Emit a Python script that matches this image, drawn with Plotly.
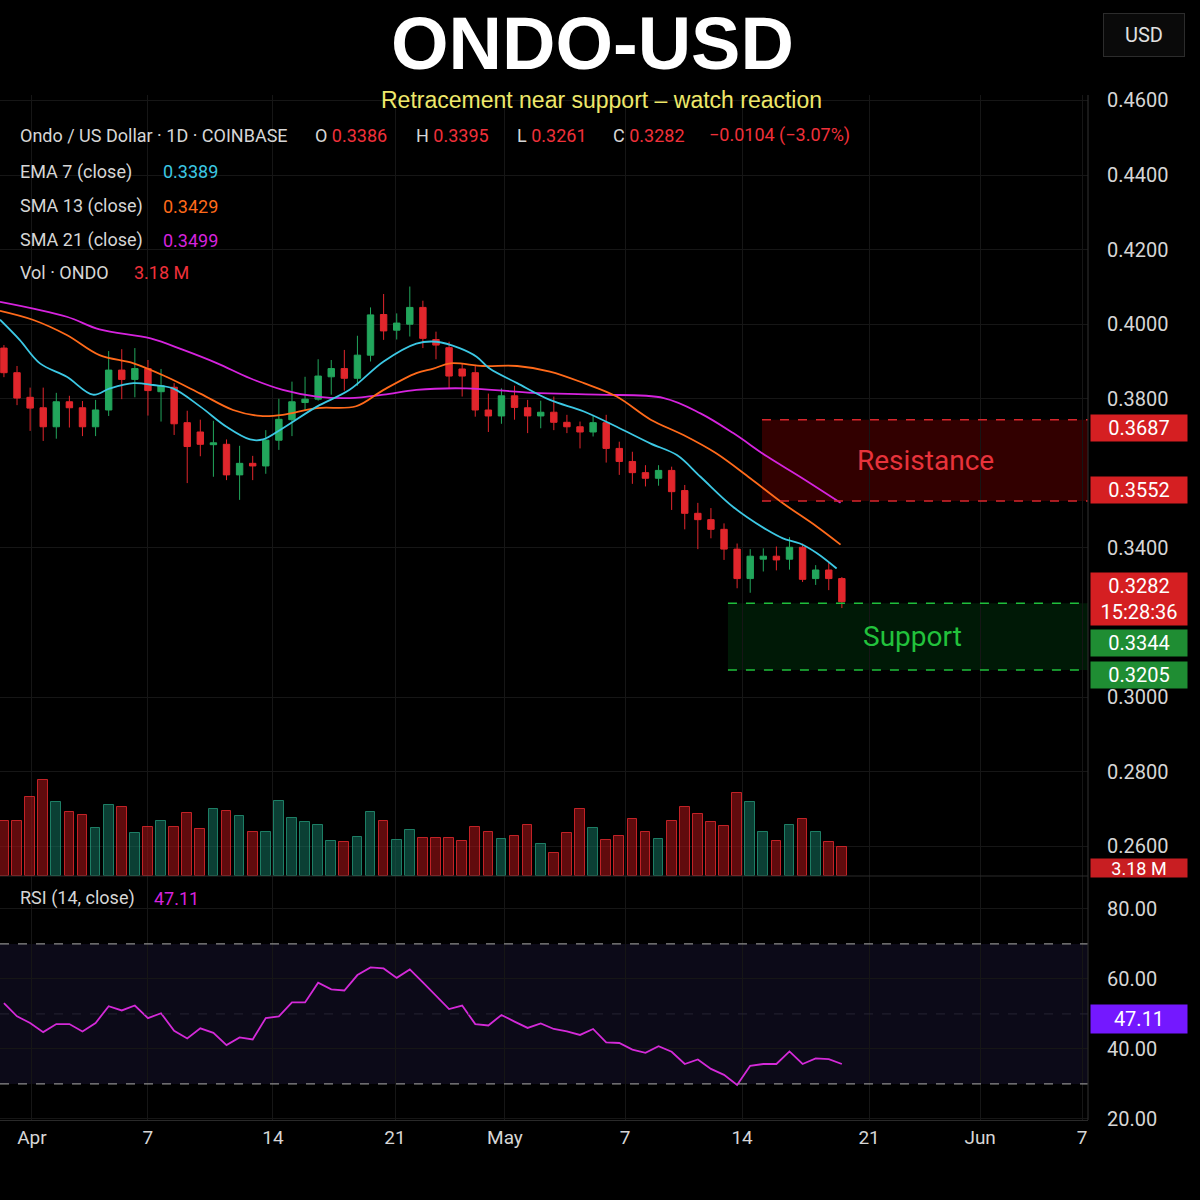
import plotly.graph_objects as go
from plotly.subplots import make_subplots

# daily candles, bar index 0 = first visible bar
opens = [0.3936, 0.3870, 0.3804, 0.3776, 0.3725, 0.3792, 0.3776, 0.3725, 0.3770, 0.3877,
         0.3852, 0.3881, 0.3819, 0.3831, 0.3736, 0.3711, 0.3677, 0.3678, 0.3596, 0.3627,
         0.3620, 0.3689, 0.3744, 0.3790, 0.3799, 0.3859, 0.3881, 0.3855, 0.3917, 0.4026,
         0.3984, 0.4000, 0.4045, 0.3959, 0.3937, 0.3880, 0.3870, 0.3770, 0.3754, 0.3808,
         0.3776, 0.3754, 0.3764, 0.3737, 0.3725, 0.3711, 0.3736, 0.3667, 0.3632, 0.3602,
         0.3587, 0.3608, 0.3554, 0.3493, 0.3476, 0.3450, 0.3397, 0.3318, 0.3370, 0.3378,
         0.3370, 0.3402, 0.3318, 0.3341, 0.3318]
highs = [0.3944, 0.3888, 0.3830, 0.3830, 0.3816, 0.3808, 0.3794, 0.3797, 0.3928, 0.3933,
         0.3936, 0.3904, 0.3880, 0.3842, 0.3768, 0.3744, 0.3741, 0.3691, 0.3674, 0.3647,
         0.3716, 0.3800, 0.3846, 0.3859, 0.3906, 0.3904, 0.3931, 0.3969, 0.4045, 0.4081,
         0.4029, 0.4101, 0.4063, 0.3980, 0.3953, 0.3895, 0.3891, 0.3814, 0.3828, 0.3835,
         0.3797, 0.3795, 0.3806, 0.3757, 0.3739, 0.3754, 0.3757, 0.3685, 0.3658, 0.3622,
         0.3622, 0.3618, 0.3569, 0.3521, 0.3507, 0.3466, 0.3412, 0.3397, 0.3399, 0.3404,
         0.3429, 0.3412, 0.3354, 0.3361, 0.3322]
lows = [0.3858, 0.3783, 0.3714, 0.3687, 0.3693, 0.3723, 0.3700, 0.3700, 0.3754, 0.3799,
        0.3804, 0.3755, 0.3739, 0.3703, 0.3574, 0.3646, 0.3591, 0.3582, 0.3529, 0.3582,
        0.3599, 0.3663, 0.3700, 0.3768, 0.3795, 0.3811, 0.3822, 0.3835, 0.3900, 0.3958,
        0.3959, 0.3967, 0.3936, 0.3906, 0.3828, 0.3806, 0.3752, 0.3711, 0.3733, 0.3744,
        0.3708, 0.3721, 0.3716, 0.3708, 0.3667, 0.3699, 0.3629, 0.3596, 0.3572, 0.3565,
        0.3567, 0.3502, 0.3450, 0.3397, 0.3426, 0.3368, 0.3292, 0.3280, 0.3337, 0.3340,
        0.3342, 0.3309, 0.3301, 0.3287, 0.3239]
closes = [0.3870, 0.3802, 0.3775, 0.3725, 0.3792, 0.3776, 0.3725, 0.3770, 0.3877, 0.3852,
          0.3881, 0.3822, 0.3835, 0.3733, 0.3672, 0.3678, 0.3682, 0.3596, 0.3627, 0.3620,
          0.3689, 0.3745, 0.3792, 0.3799, 0.3861, 0.3881, 0.3855, 0.3917, 0.4025, 0.3982,
          0.4003, 0.4045, 0.3962, 0.3944, 0.3861, 0.3861, 0.3770, 0.3754, 0.3808, 0.3777,
          0.3754, 0.3764, 0.3737, 0.3725, 0.3711, 0.3736, 0.3667, 0.3632, 0.3602, 0.3587,
          0.3608, 0.3551, 0.3493, 0.3476, 0.3450, 0.3397, 0.3318, 0.3378, 0.3378, 0.3368,
          0.3402, 0.3316, 0.3341, 0.3318, 0.3256]
volumes = [6.06, 6.13, 8.72, 10.67, 8.16, 7.05, 6.76, 5.28, 7.90, 7.61,
           4.73, 5.39, 6.13, 5.39, 6.94, 5.21, 7.42, 7.16, 6.65, 4.87,
           4.87, 8.35, 6.43, 6.02, 5.69, 3.84, 3.77, 4.28, 7.05, 6.13,
           4.03, 5.10, 4.21, 4.17, 4.17, 3.91, 5.47, 4.91, 4.10, 4.43,
           5.69, 3.55, 2.51, 4.80, 7.42, 5.28, 4.03, 4.43, 6.32, 4.84,
           4.06, 6.13, 7.68, 6.87, 6.02, 5.50, 9.16, 8.16, 4.87, 3.84,
           5.65, 6.28, 4.84, 3.73, 3.18]  # millions
rsi = [53.1, 49.3, 47.4, 44.8, 47.1, 47.1, 45.0, 47.4, 52.2, 51.0,
       52.4, 48.8, 50.2, 45.2, 43.0, 45.9, 44.6, 41.1, 43.3, 42.7,
       48.8, 49.3, 53.3, 53.3, 58.9, 57.0, 56.7, 61.1, 63.3, 63.0,
       60.3, 62.7, 59.0, 55.2, 51.4, 52.4, 47.1, 46.7, 49.7, 47.8,
       46.0, 47.3, 45.7, 45.0, 44.0, 45.7, 41.9, 41.7, 39.8, 38.9,
       40.8, 39.2, 35.7, 37.0, 34.3, 32.6, 29.7, 35.2, 35.7, 35.7,
       39.3, 35.7, 37.3, 37.1, 35.7]

# moving averages (x = bar index)
emaIdx = [-0.3, 1.2, 2.75, 4.8, 6.8, 8.1, 9.9, 11.4, 12.9, 15.0, 17.0, 18.8, 19.8, 21.3, 23.9,
          26.4, 29.0, 31.5, 33.05, 34.8, 36.1, 37.1, 39.2, 41.7, 44.3, 46.8, 49.4, 51.4, 53.2,
          55.7, 58.3, 59.5, 60.8, 62.1, 63.6]
emaVals = [0.4012, 0.3958, 0.3895, 0.3859, 0.3811, 0.3828, 0.3842, 0.3837, 0.3828, 0.3779,
           0.3725, 0.3691, 0.3691, 0.3721, 0.3779, 0.3824, 0.3900, 0.3948, 0.3953, 0.3936,
           0.3913, 0.3881, 0.3842, 0.3797, 0.3766, 0.3725, 0.3680, 0.3649, 0.3591, 0.3510,
           0.3448, 0.3426, 0.3412, 0.3386, 0.3345]
sma13Idx = [-0.3, 2.2, 4.8, 7.3, 9.9, 12.4, 15.0, 17.5, 19.6, 21.3, 23.9, 26.9, 29.0, 31.5,
            32.8, 34.1, 36.6, 39.2, 41.7, 44.3, 46.8, 49.4, 51.9, 54.4, 57.0, 59.5, 62.1, 63.9]
sma13Vals = [0.4036, 0.4012, 0.3971, 0.3917, 0.3895, 0.3859, 0.3814, 0.3770, 0.3754, 0.3757,
             0.3775, 0.3780, 0.3824, 0.3869, 0.3881, 0.3895, 0.3888, 0.3888, 0.3873, 0.3842,
             0.3806, 0.3744, 0.3703, 0.3654, 0.3587, 0.3520, 0.3457, 0.3409]
sma21Idx = [-0.3, 4.8, 7.3, 11.2, 13.7, 16.3, 18.8, 21.3, 23.9, 26.4, 29.0, 31.5, 35.3, 40.4,
            45.4, 50.4, 53.2, 55.7, 58.3, 60.8, 63.9]
sma21Vals = [0.4060, 0.4020, 0.3986, 0.3962, 0.3931, 0.3895, 0.3855, 0.3824, 0.3806, 0.3802,
             0.3811, 0.3824, 0.3828, 0.3816, 0.3811, 0.3802, 0.3761, 0.3708, 0.3645, 0.3591,
             0.3521]

# zones (as drawn) and the prices printed on their tags
resistanceZone = [0.3526, 0.3744]
resistanceStart = 57.9
resistanceTags = ["0.3687", "0.3552"]
supportZone = [0.3073, 0.3252]
supportStart = 55.3
supportTags = ["0.3344", "0.3205"]

priceTicks = [0.46, 0.44, 0.42, 0.40, 0.38, 0.34, 0.30, 0.28, 0.26]
rsiTicks = [20, 40, 60, 80]
dateTickIdx = [2.14, 11.0, 20.55, 29.87, 38.27, 47.44, 56.38, 66.08, 74.56, 82.35]
dateTickText = ["Apr", "7", "14", "21", "May", "7", "14", "21", "Jun", "7"]

ohlcText = [("O", "0.3386"), ("H", "0.3395"), ("L", "0.3261"), ("C", "0.3282")]
changeText = "−0.0104 (−3.07%)"
indicatorNames = ["EMA 7 (close)", "SMA 13 (close)", "SMA 21 (close)", "Vol · ONDO"]
indicatorValues = ["0.3389", "0.3429", "0.3499", "3.18 M"]
lastPrice, countdown = "0.3282", "15:28:36"
lastVolume, lastRsi = "3.18 M", "47.11"

UP, DOWN = "#22a65c", "#e1262c"
CYAN, ORANGE, MAGENTA = "#3cc8e4", "#ff6a1a", "#d623de"
TEXT = "#d6d6d6"
GRID = "#161616"
FONT = "Roboto"

PLOT_L, PLOT_R, PLOT_T, PLOT_B = 0, 1088, 95, 1120
PANE_SPLIT = 876
X_RANGE = [-0.3, 82.8]


def px(x):
    return (x - PLOT_L) / (PLOT_R - PLOT_L)


def py(y):
    return (PLOT_B - y) / (PLOT_B - PLOT_T)


def ondoChart():
    idx = list(range(len(closes)))
    fig = make_subplots(rows=2, cols=1, shared_xaxes=True, vertical_spacing=0,
                        row_heights=[PANE_SPLIT - PLOT_T, PLOT_B - PANE_SPLIT],
                        specs=[[{"secondary_y": True}], [{}]])

    # volume underneath everything
    upDay = [c >= o for o, c in zip(opens, closes)]
    fig.add_trace(go.Bar(x=idx, y=volumes, width=0.74,
                         marker=dict(color=["rgba(20,115,95,0.55)" if u else "rgba(160,18,22,0.6)" for u in upDay],
                                     line=dict(color=["rgba(35,150,120,0.8)" if u else "rgba(220,40,45,0.85)" for u in upDay],
                                               width=1)),
                         hoverinfo="skip", showlegend=False), row=1, col=1, secondary_y=True)

    fig.add_trace(go.Candlestick(x=idx, open=opens, high=highs, low=lows, close=closes,
                                 increasing=dict(line=dict(color=UP, width=1), fillcolor=UP),
                                 decreasing=dict(line=dict(color=DOWN, width=1), fillcolor=DOWN),
                                 whiskerwidth=0, showlegend=False), row=1, col=1)

    for xs, ys, col in [(sma21Idx, sma21Vals, MAGENTA), (sma13Idx, sma13Vals, ORANGE), (emaIdx, emaVals, CYAN)]:
        fig.add_trace(go.Scatter(x=xs, y=ys, mode="lines", line=dict(color=col, width=1.8, shape="spline"),
                                 hoverinfo="skip", showlegend=False), row=1, col=1)

    fig.add_trace(go.Scatter(x=idx, y=rsi, mode="lines", line=dict(color="#d42ad8", width=1.8),
                             hoverinfo="skip", showlegend=False), row=2, col=1)

    # zones
    xEnd = X_RANGE[1]
    fig.add_shape(type="rect", xref="x", yref="y", x0=resistanceStart, x1=xEnd,
                  y0=resistanceZone[0], y1=resistanceZone[1], fillcolor="rgba(120,0,0,0.42)",
                  line_width=0, layer="below")
    fig.add_shape(type="rect", xref="x", yref="y", x0=supportStart, x1=xEnd,
                  y0=supportZone[0], y1=supportZone[1], fillcolor="rgba(0,90,20,0.28)",
                  line_width=0, layer="below")
    for yv in resistanceZone:
        fig.add_shape(type="line", xref="x", yref="y", x0=resistanceStart, x1=xEnd, y0=yv, y1=yv,
                      line=dict(color="#d8262c", width=1.5, dash="dash"))
    for yv in supportZone:
        fig.add_shape(type="line", xref="x", yref="y", x0=supportStart, x1=xEnd, y0=yv, y1=yv,
                      line=dict(color="#1fc03c", width=1.5, dash="dash"))
    fig.add_annotation(x=70.4, y=sum(resistanceZone) / 2, xref="x", yref="y", text="Resistance",
                       showarrow=False, font=dict(family=FONT, size=28, color="#e8333b"))
    fig.add_annotation(x=69.4, y=sum(supportZone) / 2, xref="x", yref="y", text="Support",
                       showarrow=False, font=dict(family=FONT, size=28, color="#22c23c"))

    # rsi band
    fig.add_shape(type="rect", xref="x2 domain", yref="y3", x0=0, x1=1, y0=30, y1=70,
                  fillcolor="#0c0a18", line_width=0, layer="below")
    for yv in [70, 30]:
        fig.add_shape(type="line", xref="x2 domain", yref="y3", x0=0, x1=1, y0=yv, y1=yv,
                      line=dict(color="#8c8c8c", width=1.3, dash="dash"))
    fig.add_shape(type="line", xref="x2 domain", yref="y3", x0=0, x1=1, y0=50, y1=50,
                  line=dict(color="#262433", width=1, dash="dash"))

    # pane borders
    fig.add_shape(type="line", xref="paper", yref="paper", x0=0, x1=1, y0=py(PANE_SPLIT), y1=py(PANE_SPLIT),
                  line=dict(color="#2a2a2a", width=1.2))
    fig.add_shape(type="line", xref="paper", yref="paper", x0=1, x1=1, y0=0, y1=1,
                  line=dict(color="#2a2a2a", width=1.2))

    def note(x, y, text, color=TEXT, size=18, family=FONT, xanchor="left"):
        fig.add_annotation(x=px(x), y=py(y), xref="paper", yref="paper", text=text, showarrow=False,
                           xanchor=xanchor, yanchor="middle",
                           font=dict(family=family, size=size, color=color))

    # headings
    note(592, 44, "<b>ONDO-USD</b>", "white", 74, "Liberation Sans", "center")
    note(601, 100, "Retracement near support – watch reaction", "#eee86a", 23, "Liberation Sans", "center")
    fig.add_annotation(x=px(1144), y=py(35), xref="paper", yref="paper", text="USD", showarrow=False,
                       xanchor="center", yanchor="middle",
                       font=dict(family=FONT, size=20, color="#e0e0e0"), bgcolor="#0a0a0a",
                       bordercolor="#2c2c2c", borderwidth=1, borderpad=9, width=62)

    # legend lines
    note(18, 135, "Ondo / US Dollar · 1D · COINBASE")
    for (k, v), x in zip(ohlcText, [313, 414, 515, 611]):
        note(x, 135, k + " <span style='color:#f0303a'>" + v + "</span>")
    note(707, 135, changeText, "#f0303a")
    for name, val, y, x, col in zip(indicatorNames, indicatorValues, [172, 206, 240, 272],
                                    [161, 161, 161, 132], [CYAN, ORANGE, MAGENTA, "#f0303a"]):
        note(18, y, name)
        note(x, y, val, col)
    note(18, 898, "RSI (14, close)")
    note(152, 898, lastRsi, MAGENTA)

    # price tags on the right scale
    def tag(y, text, bg, h=24, size=20):
        fig.add_annotation(x=px(1090), y=py(y), xref="paper", yref="paper", text=text, showarrow=False,
                           xanchor="left", yanchor="middle", bgcolor=bg, width=94, height=h,
                           font=dict(family=FONT, size=size, color="white"))

    tag(428, resistanceTags[0], "#d51f22")
    tag(490, resistanceTags[1], "#d51f22")
    tag(599, lastPrice + "<br>" + countdown, "#d51f22", 50)
    tag(643, supportTags[0], "#1f8d33")
    tag(675, supportTags[1], "#1f8d33")
    tag(868, lastVolume, "#c81e22", 16, 18)
    tag(1019, lastRsi, "#7418ff", 26)

    axisFont = dict(family=FONT, size=20, color=TEXT)
    fig.update_xaxes(range=X_RANGE, domain=[0, 1], tickvals=dateTickIdx, ticktext=dateTickText,
                     showgrid=True, gridcolor=GRID, zeroline=False, ticks="", rangeslider_visible=False)
    fig.update_xaxes(showticklabels=False, row=1, col=1)
    fig.update_xaxes(tickfont=dict(family=FONT, size=19, color=TEXT), showline=True,
                     linecolor="#2a2a2a", row=2, col=1)
    fig.update_yaxes(range=[0.25206, 0.46145], tickvals=priceTicks, tickformat=".4f", side="right",
                     tickfont=axisFont, gridcolor=GRID, zeroline=False, ticklabelstandoff=18,
                     row=1, col=1, secondary_y=False)
    fig.update_yaxes(range=[0, 86.5], visible=False, showgrid=False, row=1, col=1, secondary_y=True)
    fig.update_yaxes(range=[19.7, 89.4], tickvals=rsiTicks, tickformat=".2f", side="right",
                     tickfont=axisFont, gridcolor=GRID, zeroline=False, ticklabelstandoff=18,
                     row=2, col=1)

    fig.update_layout(width=1200, height=1200, paper_bgcolor="black", plot_bgcolor="black",
                      margin=dict(l=PLOT_L, r=1200 - PLOT_R, t=PLOT_T, b=1200 - PLOT_B),
                      showlegend=False, bargap=0)
    return fig


fig = ondoChart()
fig.write_html("out.html", config={"displayModeBar": False},
               post_script="document.body.style.margin='0px';")
